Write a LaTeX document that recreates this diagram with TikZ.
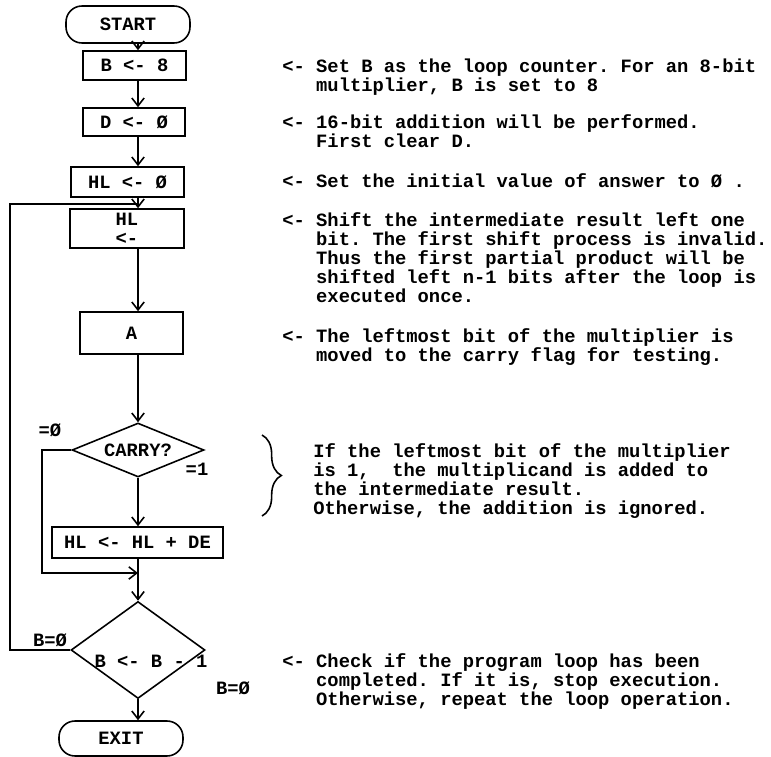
\documentclass[tikz,border=0pt]{standalone}
\usepackage{fontspec}
\setmonofont{Liberation Mono}
\usepackage{tikz}
\usetikzlibrary{shapes}
\usetikzlibrary{positioning}
\usetikzlibrary{arrows.meta}
\usetikzlibrary{decorations.pathreplacing}
\newcommand{\ind}{\hphantom{<-~}}
\tikzset{
    boxn/.style = {rectangle, draw=black, line width=0.9pt, align=center, inner sep=0pt},
    termn/.style = {rectangle, rounded corners=0.32cm, draw=black, line width=0.9pt, inner sep=0pt},
    decn/.style = {diamond, aspect=2.4, draw=black, line width=0.9pt, inner sep=0pt},
    txtn/.style = {anchor=base west, align=left, inner sep=0pt}, % base = last line
    lbln/.style = {inner sep=0pt},
    edgen/.style = {-, line width=0.9pt, black},
    edgea/.style = {-{Straight Barb[length=4.5pt,width=7pt]}, line width=0.9pt, black},
    bracen/.style = {-, line width=0.9pt, black, decorate, decoration={brace, amplitude=11pt}},
}
\begin{document}
\frenchspacing
\begin{tikzpicture}[x=0.02cm, y=-0.02cm, font=\ttfamily\bfseries\fontsize{10.7}{10.8}\selectfont]
\useasboundingbox (0,0) rectangle (771,757);
% flow chart
\node[termn, minimum width=2.48cm, minimum height=0.74cm] at (128, 24.5) (start) {START};
\node[boxn, minimum width=2.06cm, minimum height=0.58cm] at (134.5, 65.5) (b8) {B <- 8};
\node[boxn, minimum width=2.04cm, minimum height=0.56cm] at (134, 122) (d0) {D <- Ø};
\node[boxn, minimum width=2.26cm, minimum height=0.60cm] at (127.5, 182) (hl0) {HL <- Ø};
\node[boxn, minimum width=2.28cm, minimum height=0.78cm] at (127, 228.5) (shift) {HL\\<-};
\node[boxn, minimum width=2.06cm, minimum height=0.84cm] at (131.5, 333) (acc) {A};
\node[decn, minimum width=2.64cm, minimum height=1.08cm] at (138, 450) (carry) {CARRY?};
\node[boxn, minimum width=3.42cm, minimum height=0.62cm] at (137.5, 542.5) (add) {HL <- HL + DE};
\node[decn, minimum width=2.68cm, minimum height=1.94cm] at (138, 650) (dec) {};
\node[lbln] at (151, 661) (declbl) {B <- B - 1};
\node[termn, minimum width=2.48cm, minimum height=0.70cm] at (121, 738.5) (exit) {EXIT};
%
\node[lbln] at (50, 430) (c0) {=Ø};
\node[lbln] at (197, 469) (c1) {=1};
\node[lbln] at (50, 640) (bz1) {B=Ø};
\node[lbln] at (233, 688) (bz2) {B=Ø};
%
\coordinate (ax) at (138, 0);
\coordinate (lx) at (10, 0);
\coordinate (bx) at (42, 0);
\coordinate (j1) at (138, 204);
\coordinate (j2) at (138, 573);
%
\draw[edgea] (start.south -| ax) -- (b8.north -| ax);
\draw[edgea] (b8.south -| ax) -- (d0.north -| ax);
\draw[edgea] (d0.south -| ax) -- (hl0.north -| ax);
\draw[edgea] (hl0.south -| ax) -- (shift.north -| ax);
\draw[edgea] (shift.south -| ax) -- (acc.north -| ax);
\draw[edgea] (acc.south -| ax) -- (carry.north);
\draw[edgea] (carry.south) -- (add.north -| ax);
\draw[edgea] (add.south -| ax) -- (dec.north);
\draw[edgea] (dec.south) -- (exit.north -| ax);
\draw[edgea] (carry.west) -- (carry.west -| bx) -- (bx |- j2) -- (j2);
\draw[edgen] (dec.west) -- (dec.west -| lx) -- (lx |- j1) -- (j1);
% notes
\node[txtn] at (282, 91.2) (t1) {<- Set B as the loop counter. For an 8-bit\\\ind multiplier, B is set to 8};
\node[txtn] at (282, 147.2) (t2) {<- 16-bit addition will be performed.\\\ind First clear D.};
\node[txtn] at (282, 187.5) (t3) {<- Set the initial value of answer to Ø .};
\node[txtn] at (282, 302.3) (t4) {<- Shift the intermediate result left one\\\ind bit. The first shift process is invalid.\\\ind Thus the first partial product will be\\\ind shifted left n-1 bits after the loop is\\\ind executed once.};
\node[txtn] at (282, 361.2) (t5) {<- The leftmost bit of the multiplier is\\\ind moved to the carry flag for testing.};
\node[txtn] at (313, 514.6) (t6) {If the leftmost bit of the multiplier\\is 1,~ the multiplicand is added to\\the intermediate result.\\Otherwise, the addition is ignored.};
\node[txtn] at (282, 705.9) (t7) {<- Check if the program loop has been\\\ind completed. If it is, stop execution.\\\ind Otherwise, repeat the loop operation.};
\draw[bracen] (262, 435) -- (262, 516);

\end{tikzpicture}
\end{document}
